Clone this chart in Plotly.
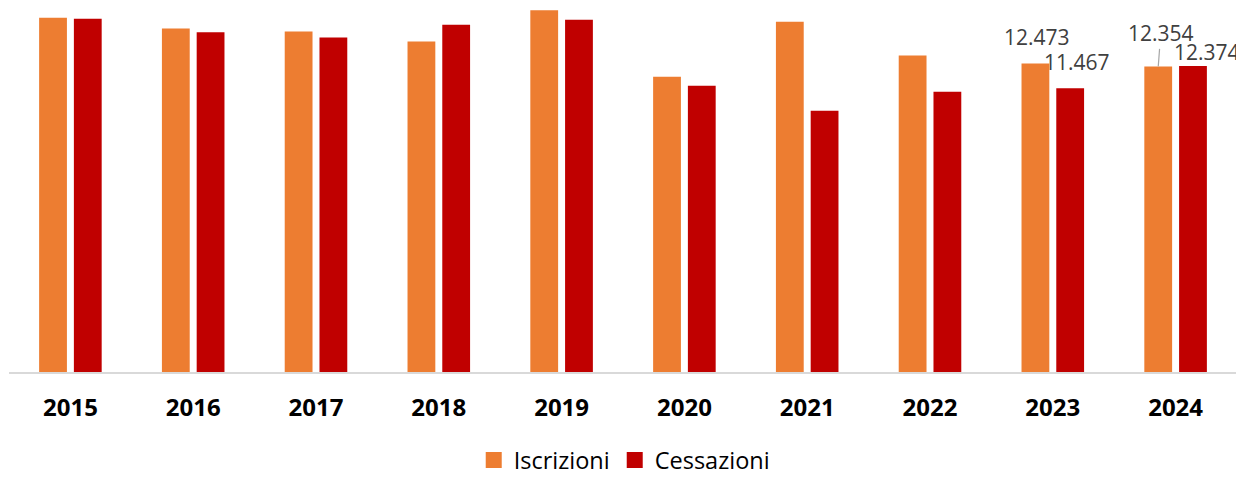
import plotly.graph_objects as go

years = ["2015", "2016", "2017", "2018", "2019", "2020", "2021", "2022", "2023", "2024"]
iscrizioni = [14319, 13887, 13766, 13362, 14626, 11937, 14158, 12797, 12473, 12354]
cessazioni = [14279, 13738, 13524, 14036, 14238, 11574, 10565, 11332, 11467, 12374]

ORANGE = "#ED7D31"
RED = "#C00000"
FONT = "Open Sans"


def fmt(v):
    return f"{v:,}".replace(",", ".")


fig = go.Figure()
fig.add_trace(go.Bar(name="Iscrizioni", x=years, y=iscrizioni, marker_color=ORANGE,
                     marker_line_width=0, showlegend=False))
fig.add_trace(go.Bar(name="Cessazioni", x=years, y=cessazioni, marker_color=RED,
                     marker_line_width=0, showlegend=False))
# legend entries with larger square swatches
for name, col in (("Iscrizioni", ORANGE), ("Cessazioni", RED)):
    fig.add_trace(go.Scatter(name=name, x=[None], y=[None], mode="markers",
                             marker=dict(symbol="square", size=17, color=col),
                             showlegend=True))

# data labels (only last two years are labelled in the reference)
half = 17.35  # px offset of each bar from category centre
lab_font = dict(family=FONT, size=21, color="#404040")
i23, i24 = years.index("2023"), years.index("2024")
ann = [
    dict(x=i23, y=iscrizioni[i23], text=fmt(iscrizioni[i23]), showarrow=False,
         xshift=-half + 2, yshift=26, yanchor="middle", font=lab_font),
    dict(x=i23, y=cessazioni[i23], text=fmt(cessazioni[i23]), showarrow=False,
         xshift=half + 7, yshift=26, yanchor="middle", font=lab_font),
    dict(x=i24, y=iscrizioni[i24], text=fmt(iscrizioni[i24]), showarrow=True,
         arrowhead=0, arrowwidth=1.2, arrowcolor="#A6A6A6", ax=2.5, ay=-33,
         xshift=-half, font=lab_font, standoff=0),
    dict(x=i24, y=cessazioni[i24], text=fmt(cessazioni[i24]), showarrow=False,
         xshift=half + 14, yshift=14, yanchor="middle", font=lab_font),
]

# the page body adds an 8px offset, so the figure is sized to fit the window
fig.update_layout(
    width=1236, height=469,
    margin=dict(l=1, r=7, t=0, b=104.5, autoexpand=False),
    paper_bgcolor="white", plot_bgcolor="white",
    barmode="group", bargap=0.434, bargroupgap=0.2,
    annotations=ann,
    showlegend=True,
    legend=dict(orientation="h", x=0.501, xanchor="center", yref="container",
                y=0.036, yanchor="middle",
                font=dict(family=FONT, size=23.5, color="#000000"),
                itemwidth=30, traceorder="normal"),
    xaxis=dict(type="category", showline=True, linecolor="#D9D9D9", linewidth=1.5,
               showgrid=False, ticks="", ticklabelstandoff=13, automargin=False,
               tickfont=dict(family=FONT, size=24, color="#000000", weight="bold"),
               range=[-0.5, 9.5]),
    yaxis=dict(range=[0, 14715], showgrid=False, showticklabels=False, zeroline=False,
               showline=False, ticks="", automargin=False),
)

fig.write_html("out.html")
